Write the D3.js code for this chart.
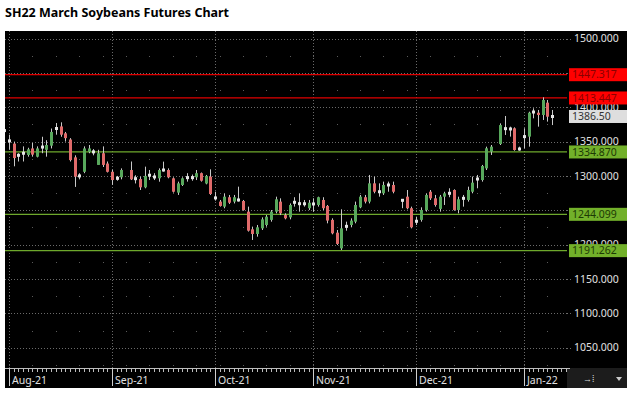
<!DOCTYPE html>
<html><head><meta charset="utf-8">
<script src="https://cdn.jsdelivr.net/npm/d3@7"></script>
<style>body{margin:0;background:#fff;} svg{display:block}</style>
</head><body>
<svg id="c" width="633" height="395"></svg>
<script>
// ---------------- data ----------------
const title = "SH22 March Soybeans Futures Chart";
const firstSession = "2021-07-30";
const lastSession = "2022-01-14";
const holidays = ["2021-09-06", "2021-11-25", "2021-12-24"];
const barCount = 115; // bars from 2021-07-30 to 2022-01-11
const open = [1366,1351,1347,1330,1333,1330.5,1340,1328,1342,1338,1344,1369,1372,1362,1353,1327,1300,1306,1335,1335,1316,1333,1318,1306,1296.5,1298,
  1308.6,1296,1295.5,1283.4,1301,1298.5,1296.5,1308.6,1308.6,1296.5,1275.7,1286.8,1297.5,1297.5,1298,1304,1289,1299,
  1268,1262.6,1255.3,1269,1262.6,1265,1263.5,1248,1222.3,1215.5,1223.7,1228.6,1236,1248,1262.6,1243,1239.7,1261.6,1259.6,1259.5,1253,
  1259.2,1257.7,1265,1256.3,1236,1217.4,1194.6,1226.6,1228.6,1233.4,1254.3,1269,1262.6,1289.2,1277,1274.7,1286.8,1286.8,
  1264.5,1269.8,1253,1234,1236,1250.4,1277,1267.4,1252,1269.8,1274.7,1279.5,1250.4,1267.4,1265,1277,1295.5,1294,1311,1335.3,
  1346.5,1368.8,1368.3,1369.3,1339.2,1357.2,1357.2,1393,1392,1388.7,1406.6,1386.5];
const high = [1374,1360,1350,1333,1343,1341,1348,1343,1357,1352,1369,1377,1378,1364,1355,1330,1304,1343,1345,1339,1338,1343,1321,1309,1300,1311,
  1321,1301,1299,1313.5,1308.6,1304,1311,1320.8,1311,1298,1291.7,1298,1304,1302,1308.6,1305,1301.4,1309.6,
  1277,1265,1274.7,1272.3,1272.3,1284.4,1265,1255.3,1226.2,1228.6,1239.7,1243,1250.4,1269.8,1267.4,1245.6,1260,1269,1274.7,1265,1265,
  1267.4,1269.8,1269,1257.7,1238.3,1221.3,1251.4,1233.4,1238.3,1262.6,1272.3,1272.3,1301.4,1299,1289.2,1291.7,1291.7,1291.7,
  1265.5,1279.5,1255.3,1240.7,1254.3,1274.7,1279.5,1272.3,1272.3,1277,1282,1280.5,1269.8,1272.3,1284.4,1299,1301.4,1316,1342.6,1345,
  1376.5,1387.2,1371.7,1370.7,1342.6,1369.3,1393.5,1398.4,1396,1414.4,1410.5,1396];
const low = [1357,1338,1314,1321,1321,1328,1328,1327,1333,1328,1340,1360,1357,1350,1321,1284,1295,1304,1333,1330,1316,1313,1305,1287,1293,1295,
  1294,1289,1279.5,1282,1294,1294,1291.6,1306.2,1296.5,1275.7,1272.3,1285.4,1291.7,1293,1294,1291.7,1287.8,1272.3,
  1264,1255.3,1252.9,1259.2,1260,1262.6,1249.4,1219,1206.8,1211.6,1221.3,1226.2,1233.4,1245.6,1243,1236.8,1236.8,1255.3,1248,1255.3,1250.4,
  1248,1255.3,1250.4,1231,1215,1199.5,1192.2,1220.3,1225.2,1231,1253,1260,1260,1274.7,1269.8,1272.3,1277,1274.7,
  1253,1251.4,1223.7,1228.6,1233.4,1248,1265,1255.3,1248,1257.7,1269,1249.4,1245.6,1255.3,1262.6,1274.7,1282,1291.7,1308.6,1330.5,
  1345,1359.6,1357.2,1336.7,1336.7,1340.2,1342.6,1383.8,1371.7,1381.4,1379,1374];
const close = [1366,1351,1326,1330,1333,1338.7,1331,1340,1342,1345,1364,1369,1360,1355,1323,1299,1300,1340,1340,1335,1333,1316,1306,1294,1296.5,1308.6,
  1295,1296,1283.4,1300,1301,1298.5,1308.6,1308.6,1298,1277,1289.2,1296.5,1297.5,1297.5,1304,1293,1300,1273.7,
  1268,1256.3,1269.8,1261,1269,1265,1250.4,1220.3,1215.5,1225.2,1236.8,1240.7,1248,1266,1245.6,1238.3,1257.7,1261.6,1259.6,1259.5,1261,
  1259.2,1269,1253,1235,1216.5,1201,1223.7,1226.6,1235,1257.7,1269.8,1262.6,1289.2,1277,1277,1286.8,1286.8,1277,
  1264.5,1253,1225.2,1234,1250.4,1272.3,1267.4,1257.7,1269.8,1274.7,1274.7,1250.4,1266,1267.4,1279.5,1290.2,1295.5,1314.4,1340.2,1342.6,
  1374,1368.8,1368.3,1337.7,1339.2,1357.2,1392,1393,1388.7,1410.5,1386.2,1386.5];
const priceTicks = [1050, 1100, 1150, 1200, 1250, 1300, 1350, 1400, 1450, 1500];
const monthStarts = ["2021-08-02", "2021-09-01", "2021-10-01", "2021-11-01", "2021-12-01", "2022-01-03"];
const monthLabels = ["Aug-21", "Sep-21", "Oct-21", "Nov-21", "Dec-21", "Jan-22"];
const levels = [1447.317, 1413.447, 1334.870, 1244.099, 1191.262];
const levelKinds = ["resistance", "resistance", "support", "support", "support"];
const lastPrice = 1386.50;

// ---------------- layout ----------------
const box = {x: 5, y: 31, w: 622, h: 357};       // black panel
const plot = {l: 5, r: 567, t: 31, b: 368};      // candle area
const FONT = "'Noto Sans', 'Open Sans', sans-serif";

const svg = d3.select("#c");
const fmt = d3.timeFormat("%Y-%m-%d");
const parse = d3.timeParse("%Y-%m-%d");

// weekday sessions (calendar slots for the x axis)
const slots = d3.timeDays(parse(firstSession), d3.timeDay.offset(parse(lastSession), 1))
  .filter(d => d.getDay() !== 0 && d.getDay() !== 6).map(fmt);
const tradeDays = slots.filter(s => !holidays.includes(s)).slice(0, barCount);
const bars = tradeDays.map((d, i) => ({d, o: open[i], h: high[i], l: low[i], c: close[i]}));

const x = d3.scaleBand().domain(slots).range([2, 2 + slots.length * 4.68]).paddingInner(0).paddingOuter(0);
const y = d3.scaleLinear().domain([1050, 1500]).range([347.7, 38.5]);
const cx = d => x(d) + x.bandwidth() / 2;

// title
svg.append("text").attr("x", 5).attr("y", 17).attr("font-family", FONT)
  .attr("font-weight", "bold").attr("font-size", 12.5).attr("fill", "#000").text(title);

// panel
svg.append("rect").attr("x", box.x).attr("y", box.y).attr("width", box.w).attr("height", box.h).attr("fill", "#000");
svg.append("rect").attr("x", plot.r).attr("y", plot.b).attr("width", box.x + box.w - plot.r).attr("height", box.y + box.h - plot.b).attr("fill", "#1c1c1c");

svg.append("clipPath").attr("id", "clip").append("rect")
  .attr("x", plot.l).attr("y", plot.t).attr("width", plot.r - plot.l).attr("height", plot.b - plot.t);
const g = svg.append("g").attr("clip-path", "url(#clip)");

// grid: horizontal dotted at price ticks
g.selectAll(".hg").data(priceTicks).join("line")
  .attr("x1", plot.l).attr("x2", plot.r).attr("y1", d => Math.round(y(d)) + 0.5).attr("y2", d => Math.round(y(d)) + 0.5)
  .attr("stroke", "#6a6a6a").attr("stroke-width", 1).attr("stroke-dasharray", "1,2");
// vertical dotted at month starts
g.selectAll(".vg").data(monthStarts).join("line")
  .attr("x1", d => Math.round(cx(d)) + 0.5).attr("x2", d => Math.round(cx(d)) + 0.5).attr("y1", plot.t).attr("y2", plot.b)
  .attr("stroke", "#6a6a6a").attr("stroke-width", 1).attr("stroke-dasharray", "1,2");
// sparse dots: mondays x half levels
const mondays = slots.filter(s => parse(s).getDay() === 1);
const halfLevels = d3.range(1025, 1500, 50);
const dots = [];
mondays.forEach(m => halfLevels.forEach(p => dots.push([m, p])));
g.selectAll(".dot").data(dots).join("rect")
  .attr("x", d => Math.round(cx(d[0]))).attr("y", d => Math.round(y(d[1])))
  .attr("width", 1).attr("height", 1).attr("fill", "#5a5a5a");

// level lines
const lvColor = k => k === "resistance" ? "#e00000" : "#6ea82c";
g.selectAll(".lv").data(levels).join("line")
  .attr("x1", plot.l).attr("x2", plot.r + 10).attr("y1", d => y(d)).attr("y2", d => y(d))
  .attr("stroke", (d, i) => lvColor(levelKinds[i])).attr("stroke-width", 1.3);

// candles
const cg = g.selectAll(".cd").data(bars).join("g");
cg.append("line")
  .attr("x1", d => Math.round(cx(d.d)) + 0.5).attr("x2", d => Math.round(cx(d.d)) + 0.5)
  .attr("y1", d => y(d.h)).attr("y2", d => y(d.l))
  .attr("stroke", "#c8c8c8").attr("stroke-width", 1);
cg.append("rect")
  .attr("x", d => Math.round(cx(d.d)) - 1)
  .attr("width", 3)
  .attr("y", d => d.o === d.c ? y(d.o) - 1.5 : y(Math.max(d.o, d.c)))
  .attr("height", d => d.o === d.c ? 3 : Math.max(1, Math.abs(y(d.o) - y(d.c))))
  .attr("fill", d => d.c > d.o ? "#58a85c" : d.c < d.o ? "#e06a6a" : "#e6e6e6");

// right axis labels (labels entirely hidden under a level box are not drawn)
const covered = p => levels.some(l => Math.abs(y(l) - y(p)) < 5);
const shownTicks = priceTicks.filter(p => !covered(p));
svg.selectAll(".yl").data(shownTicks).join("text")
  .attr("x", 574).attr("y", d => y(d)).attr("dy", "0.35em")
  .attr("font-family", FONT).attr("font-size", 10.5).attr("fill", "#e0e0e0")
  .text(d => d3.format(".3f")(d));
// short dotted leaders to labels
svg.selectAll(".yt").data(priceTicks).join("line")
  .attr("x1", plot.r).attr("x2", 571).attr("y1", d => Math.round(y(d)) + 0.5).attr("y2", d => Math.round(y(d)) + 0.5)
  .attr("stroke", "#6a6a6a").attr("stroke-dasharray", "1,2");

// level label boxes
const lb = svg.selectAll(".lb").data(levels).join("g");
lb.append("rect").attr("x", 569).attr("y", d => y(d) - 6.5).attr("width", 58).attr("height", 13)
  .attr("fill", (d, i) => levelKinds[i] === "resistance" ? "#ff0000" : "#72b02a");
lb.append("text").attr("x", 572).attr("y", d => y(d)).attr("dy", "0.36em")
  .attr("font-family", FONT).attr("font-size", 10.5)
  .attr("fill", (d, i) => levelKinds[i] === "resistance" ? "#8a0000" : "#1d3a05")
  .text(d => d3.format(".3f")(d));
// last price box
svg.append("rect").attr("x", 569).attr("y", y(lastPrice) - 6.5).attr("width", 58).attr("height", 13).attr("fill", "#dedede");
svg.append("text").attr("x", 572).attr("y", y(lastPrice)).attr("dy", "0.36em")
  .attr("font-family", FONT).attr("font-size", 10.5).attr("fill", "#333").text(d3.format(".2f")(lastPrice));

// bottom axis
svg.append("line").attr("x1", plot.l).attr("x2", plot.r + 3).attr("y1", plot.b + 0.5).attr("y2", plot.b + 0.5)
  .attr("stroke", "#bdbdbd");
svg.selectAll(".mt").data(slots.filter(s => cx(s) > plot.l && cx(s) < plot.r)).join("line")
  .attr("x1", d => Math.round(cx(d)) + 0.5).attr("x2", d => Math.round(cx(d)) + 0.5)
  .attr("y1", plot.b).attr("y2", plot.b + 4).attr("stroke", "#bdbdbd");
svg.selectAll(".Mt").data(monthStarts).join("line")
  .attr("x1", d => Math.round(cx(d)) + 0.5).attr("x2", d => Math.round(cx(d)) + 0.5)
  .attr("y1", plot.b).attr("y2", plot.b + 18).attr("stroke", "#cfcfcf");
svg.selectAll(".ml").data(monthStarts).join("text")
  .attr("x", d => Math.round(cx(d)) + 3).attr("y", 384)
  .attr("font-family", FONT).attr("font-size", 10.5).attr("fill", "#e0e0e0")
  .text((d, i) => monthLabels[i]);

// corner controls
svg.append("text").attr("x", 583).attr("y", 382).attr("font-family", FONT).attr("font-size", 9).attr("fill", "#ddd").text("→⁞");
svg.append("path").attr("d", "M616,377 L622,377 L619,381 Z").attr("fill", "#ccc");
</script>
</body></html>
